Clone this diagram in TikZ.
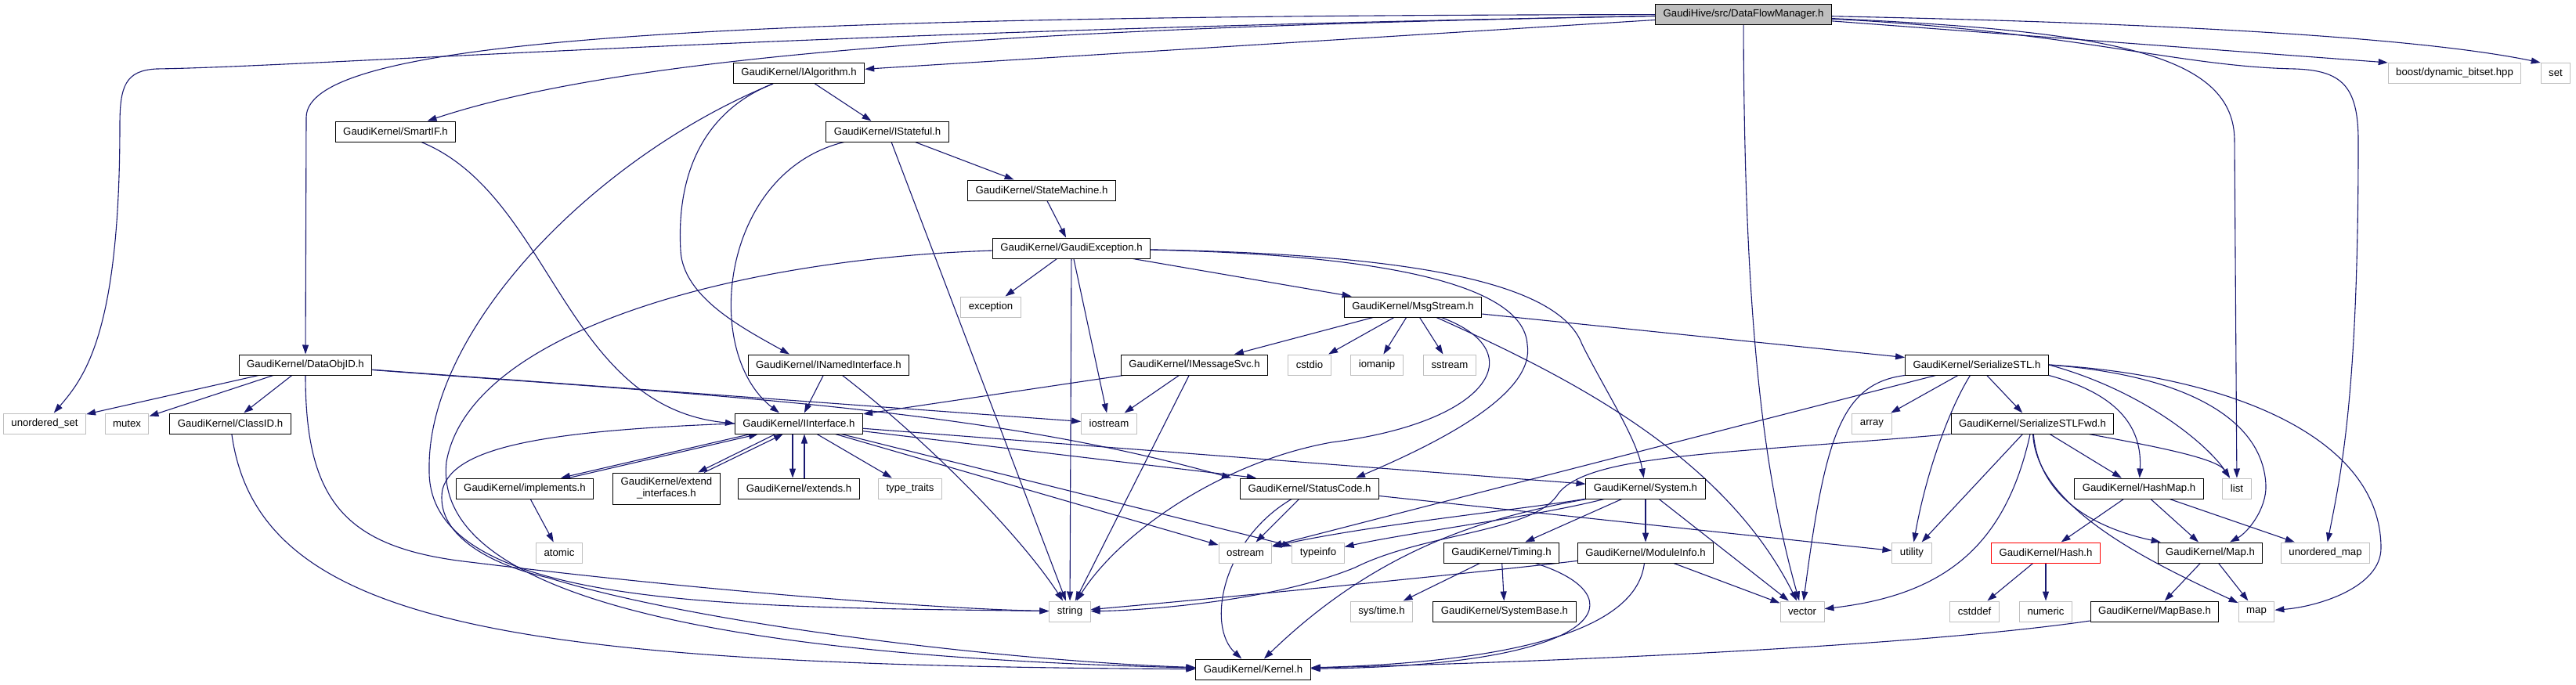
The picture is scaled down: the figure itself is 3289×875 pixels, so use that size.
\documentclass[tikz,border=0pt]{standalone}
\usepackage{fontspec}
\setmainfont{Liberation Sans}
\usetikzlibrary{arrows.meta,backgrounds}
\definecolor{edgeblue}{HTML}{191970}
\definecolor{sysgray}{HTML}{BFBFBF}

\begin{document}
\begin{tikzpicture}[x=1pt,y=-1pt,
    hdr/.style={draw=black,line width=1pt,fill=white,minimum height=26pt,inner xsep=10pt,inner ysep=0pt,font=\fontsize{13.2}{15}\selectfont},
    stdhdr/.style={hdr,draw=sysgray},
    tophdr/.style={hdr,fill=sysgray},
    redhdr/.style={hdr,draw=red},
    dep/.style={draw=edgeblue,line width=1.1pt,-{Triangle[length=12pt,width=8pt]}}]
\useasboundingbox (0,0) rectangle (3289,875);
% Place the include graph nodes, level by level

% Level 0
\node[tophdr] (dfm) at (2226,18.5) {GaudiHive/src/DataFlowManager.h};

% Level 1
\node[hdr] (ialg) at (1020,93.5) {GaudiKernel/IAlgorithm.h};
\node[stdhdr] (boost) at (3134,93.5) {boost/dynamic\_bitset.hpp};
\node[stdhdr] (set) at (3263,93.5) {set};

% Level 2
\node[hdr] (smartif) at (505,168) {GaudiKernel/SmartIF.h};
\node[hdr] (istate) at (1133,168) {GaudiKernel/IStateful.h};

% Level 3
\node[hdr] (statem) at (1330,243) {GaudiKernel/StateMachine.h};

% Level 4
\node[hdr] (gexc) at (1368,317) {GaudiKernel/GaudiException.h};

% Level 5
\node[stdhdr] (exception) at (1265,392) {exception};
\node[hdr] (msgs) at (1804,392) {GaudiKernel/MsgStream.h};

% Level 6
\node[hdr] (dataobj) at (390,466) {GaudiKernel/DataObjID.h};
\node[hdr] (inamed) at (1058,466) {GaudiKernel/INamedInterface.h};
\node[hdr] (imsg) at (1525,466) {GaudiKernel/IMessageSvc.h};
\node[stdhdr] (cstdio) at (1672,466) {cstdio};
\node[stdhdr] (iomanip) at (1758,466) {iomanip};
\node[stdhdr] (sstream) at (1851,466) {sstream};
\node[hdr] (sstl) at (2524,466) {GaudiKernel/SerializeSTL.h};

% Level 7
\node[stdhdr] (uset) at (57,541) {unordered\_set};
\node[stdhdr] (mutex) at (162,541) {mutex};
\node[hdr] (classid) at (294,541) {GaudiKernel/ClassID.h};
\node[hdr] (iiface) at (1020,541) {GaudiKernel/IInterface.h};
\node[stdhdr] (iostream) at (1416,541) {iostream};
\node[stdhdr] (array) at (2390,541) {array};
\node[hdr] (sstlfwd) at (2595,541) {GaudiKernel/SerializeSTLFwd.h};

% Level 8
\node[hdr] (impl) at (670,624) {GaudiKernel/implements.h};
\node[hdr,align=center,minimum height=40pt] (extif) at (851,624) {GaudiKernel/extend\\\_interfaces.h};
\node[hdr] (extends) at (1020,624) {GaudiKernel/extends.h};
\node[stdhdr] (typetr) at (1162,624) {type\_traits};
\node[hdr] (status) at (1672,624) {GaudiKernel/StatusCode.h};
\node[hdr] (system) at (2101,624) {GaudiKernel/System.h};
\node[hdr] (hashmap) at (2731,624) {GaudiKernel/HashMap.h};
\node[stdhdr] (list) at (2856,624) {list};

% Level 9
\node[stdhdr] (atomic) at (714,706) {atomic};
\node[stdhdr] (ostream) at (1590,706) {ostream};
\node[stdhdr] (typeinfo) at (1683,706) {typeinfo};
\node[hdr] (timing) at (1917,706) {GaudiKernel/Timing.h};
\node[hdr] (modinfo) at (2101,706) {GaudiKernel/ModuleInfo.h};
\node[stdhdr] (utility) at (2441,706) {utility};
\node[redhdr] (hash) at (2612,706) {GaudiKernel/Hash.h};
\node[hdr] (maphdr) at (2822,706) {GaudiKernel/Map.h};
\node[stdhdr] (umap) at (2969,706) {unordered\_map};

% Level 10
\node[stdhdr] (string) at (1366,781) {string};
\node[stdhdr] (systime) at (1764,781) {sys/time.h};
\node[hdr] (sysbase) at (1921,781) {GaudiKernel/SystemBase.h};
\node[stdhdr] (vector) at (2301,781) {vector};
\node[stdhdr] (cstddef) at (2521,781) {cstddef};
\node[stdhdr] (numeric) at (2612,781) {numeric};
\node[hdr] (mapbase) at (2751,781) {GaudiKernel/MapBase.h};
\node[stdhdr] (map) at (2881,781) {map};

% Level 11
\node[hdr] (kernel) at (1600,855) {GaudiKernel/Kernel.h};

\begin{scope}[on background layer]
% DataFlowManager.h
\draw[dep] (dfm) -- (ialg);
\draw[dep] (dfm) .. controls (1300,35) and (800,70) .. (smartif);
\draw[dep] (dfm) .. controls (900,20) and (391,50) .. (391,150) -- (dataobj);
\draw[dep] (dfm) .. controls (1000,40) and (400,85) .. (200,88) .. controls (160,90) and (153,110) .. (153,160) .. controls (153,420) and (110,480) .. (uset);
\draw[dep] (dfm) .. controls (2227,400) and (2250,600) .. (vector);
\draw[dep] (dfm) .. controls (2700,40) and (2853,70) .. (2853,180) -- (list);
\draw[dep] (dfm) .. controls (2650,40) and (2780,85) .. (2930,88) .. controls (2990,90) and (3011,110) .. (3011,180) .. controls (3011,500) and (2990,600) .. (umap);
\draw[dep] (dfm) -- (boost.north west);
\draw[dep] (dfm) .. controls (2800,30) and (3100,50) .. (set.north west);

% IAlgorithm.h
\draw[dep] (ialg) -- (istate);
\draw[dep] (ialg) .. controls (880,150) and (865,250) .. (869,320) .. controls (872,380) and (950,420) .. ([xshift=-50pt]inamed.north);
\draw[dep] (ialg) .. controls (760,200) and (545,420) .. (548,600) .. controls (545,780) and (950,775) .. (string);

% SmartIF.h
\draw[dep] (smartif) .. controls (705,250) and (720,520) .. (iiface.west);

% IStateful.h
\draw[dep] (istate) .. controls (920,220) and (895,450) .. ([xshift=-25pt]iiface.north);
\draw[dep] (istate) -- (statem);
\draw[dep] (istate) -- (string);

% StateMachine.h
\draw[dep] (statem) -- (gexc);

% GaudiException.h
\draw[dep] (gexc) -- (exception);
\draw[dep] (gexc) -- (msgs);
\draw[dep] (gexc) -- (iostream);
\draw[dep] (gexc) -- (string);
\draw[dep] (gexc) .. controls (950,330) and (600,420) .. (570,590) .. controls (550,780) and (1000,840) .. (kernel);
\draw[dep] (gexc) .. controls (1750,325) and (1945,360) .. (1950,440) .. controls (1960,500) and (1850,560) .. ([xshift=59pt]status.north);
\draw[dep] (gexc) .. controls (1800,325) and (1990,360) .. (2020,440) .. controls (2050,500) and (2090,560) .. (system);

% MsgStream.h
\draw[dep] (msgs) -- (imsg);
\draw[dep] (msgs) -- (cstdio);
\draw[dep] (msgs) -- (iomanip);
\draw[dep] (msgs) -- (sstream);
\draw[dep] (msgs) -- (sstl);
\draw[dep] (msgs) .. controls (1960,450) and (1900,540) .. (1700,565) .. controls (1560,590) and (1430,680) .. (string);
\draw[dep] (msgs) .. controls (2000,480) and (2200,580) .. (vector);

% IMessageSvc.h
\draw[dep] (imsg) -- (iiface);
\draw[dep] (imsg) -- (iostream);
\draw[dep] (imsg) -- (string);

% INamedInterface.h
\draw[dep] (inamed) -- (iiface);
\draw[dep] (inamed) .. controls (1180,560) and (1300,680) .. (string);

% DataObjID.h
\draw[dep] (dataobj) -- (uset);
\draw[dep] (dataobj) -- (mutex);
\draw[dep] (dataobj) -- (classid);
\draw[dep] (dataobj) -- (iostream);
\draw[dep] (dataobj) .. controls (900,505) and (1250,520) .. ([xshift=-100pt]status.north);
\draw[dep] (dataobj) .. controls (390,640) and (440,700) .. (600,718) .. controls (900,755) and (1200,778) .. (string);

% ClassID.h
\draw[dep] (classid) .. controls (330,800) and (650,850) .. (kernel);

% IInterface.h
\draw[dep] ([xshift=-62pt]iiface.south) -- ([xshift=46pt]impl.north);
\draw[dep] ([xshift=-30pt]iiface.south) -- ([xshift=40pt]extif.north);
\draw[dep] ([xshift=-8pt]iiface.south) -- ([xshift=-8pt]extends.north);
\draw[dep] (iiface) -- (typetr);
\draw[dep] (iiface) -- ([xshift=-68pt]status.north);
\draw[dep] (iiface) -- (system);
\draw[dep] (iiface) -- (typeinfo);
\draw[dep] (iiface) -- (ostream);
\draw[dep] (iiface.west) .. controls (700,550) and (580,570) .. (565,625) .. controls (555,680) and (620,720) .. (700,738) .. controls (900,800) and (1300,845) .. (kernel);

% implements.h, extend_interfaces.h, extends.h
\draw[dep] ([xshift=56pt]impl.north) -- ([xshift=-52pt]iiface.south);
\draw[dep] (impl) -- (atomic);
\draw[dep] ([xshift=48pt]extif.north) -- ([xshift=-20pt]iiface.south);
\draw[dep] ([xshift=7pt]extends.north) -- ([xshift=7pt]iiface.south);

% StatusCode.h
\draw[dep] (status) -- (ostream);
\draw[dep] (status) -- (utility);
\draw[dep] (status) .. controls (1560,690) and (1540,800) .. (kernel);

% System.h
\draw[dep] (system) -- (timing);
\draw[dep] (system) -- (modinfo);
\draw[dep] (system) -- (vector);
\draw[dep] (system) .. controls (1950,650) and (1750,670) .. (ostream);
\draw[dep] (system) .. controls (1960,660) and (1800,680) .. (typeinfo);
\draw[dep] (system) .. controls (1900,660) and (1760,700) .. (kernel);

% Timing.h
\draw[dep] (timing) -- (systime);
\draw[dep] (timing) -- (sysbase);
\draw[dep] (timing) .. controls (2090,760) and (2060,850) .. (kernel);

% ModuleInfo.h
\draw[dep] (modinfo) .. controls (1900,730) and (1600,760) .. (string);
\draw[dep] (modinfo) -- (vector);
\draw[dep] (modinfo) .. controls (2090,800) and (1950,845) .. (kernel);

% SerializeSTL.h
\draw[dep] (sstl) -- (sstlfwd);
\draw[dep] (sstl) -- (array);
\draw[dep] (sstl) -- (ostream);
\draw[dep] (sstl) .. controls (2490,520) and (2460,600) .. (utility);
\draw[dep] (sstl.south west) .. controls (2350,490) and (2330,560) .. (vector);
\draw[dep] (sstl.south east) .. controls (2710,505) and (2735,550) .. (hashmap);
\draw[dep] (sstl.east) .. controls (2740,500) and (2820,570) .. (list);
\draw[dep] (sstl.east) .. controls (2800,480) and (2890,540) .. (2893,620) .. controls (2894,650) and (2870,680) .. ([xshift=25pt]maphdr.north);
\draw[dep] (sstl.east) .. controls (2850,480) and (3040,560) .. (3040,700) .. controls (3040,750) and (2960,775) .. (map);

% SerializeSTLFwd.h
\draw[dep] (sstlfwd) -- (utility);
\draw[dep] (sstlfwd) .. controls (2560,700) and (2480,760) .. (vector);
\draw[dep] (sstlfwd) .. controls (2600,650) and (2750,720) .. (map);
\draw[dep] (sstlfwd) .. controls (2605,650) and (2700,680) .. (maphdr);
\draw[dep] (sstlfwd) -- (hashmap);
\draw[dep] (sstlfwd) .. controls (2750,570) and (2830,585) .. (list);
\draw[dep] (sstlfwd.south west) .. controls (2200,580) and (2030,580) .. (1990,630) .. controls (1960,680) and (1820,680) .. (1730,725) .. controls (1620,770) and (1450,780) .. (string);

% HashMap.h, Hash.h, Map.h, MapBase.h
\draw[dep] (hashmap) -- (hash);
\draw[dep] (hashmap) -- (maphdr);
\draw[dep] (hashmap) -- (umap);
\draw[dep] (hash) -- (cstddef);
\draw[dep] (hash) -- (numeric);
\draw[dep] (maphdr) -- (mapbase);
\draw[dep] (maphdr) -- (map);
\draw[dep] (mapbase) .. controls (2450,825) and (2000,845) .. (kernel);
\end{scope}

\end{tikzpicture}
\end{document}
